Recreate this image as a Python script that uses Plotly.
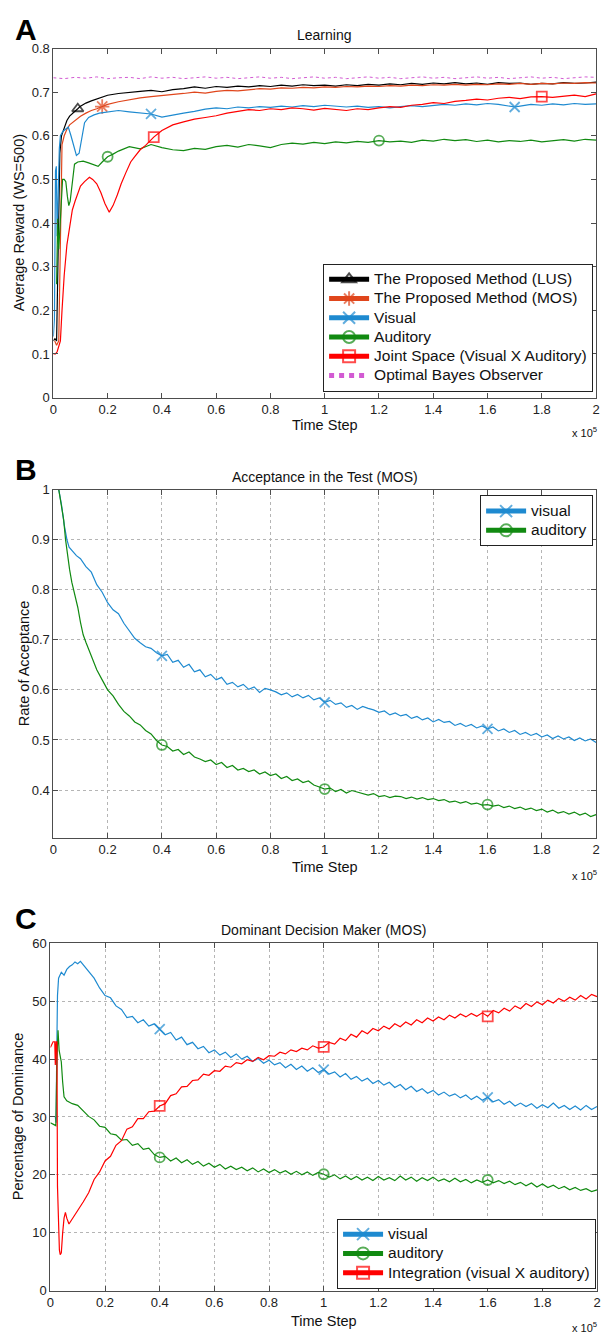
import plotly.graph_objects as go

# ---------------- Panel A : Learning ----------------
lus_t = [0, 0.006, 0.012, 0.018, 0.024, 0.03, 0.04, 0.05, 0.06, 0.07, 0.08, 0.09, 0.1, 0.12, 0.14, 0.16, 0.18, 0.2,
         0.24, 0.28, 0.32, 0.36, 0.4, 0.44, 0.48, 0.52, 0.56, 0.6, 0.64, 0.68, 0.72, 0.76, 0.8, 0.84, 0.88, 0.92, 0.96,
         1.0, 1.04, 1.08, 1.12, 1.16, 1.2, 1.24, 1.28, 1.32, 1.36, 1.4, 1.44, 1.48, 1.52, 1.56, 1.6, 1.64, 1.68, 1.72,
         1.76, 1.8, 1.84, 1.88, 1.92, 1.96, 2.0]
lus_v = [0.13, 0.135, 0.13, 0.4, 0.56, 0.6, 0.62, 0.635, 0.645, 0.65, 0.655, 0.662, 0.668, 0.675, 0.68, 0.684, 0.688, 0.693,
         0.697, 0.700, 0.702, 0.704, 0.701, 0.706, 0.708, 0.712, 0.709, 0.713, 0.711, 0.714, 0.712, 0.715, 0.713, 0.716, 0.714, 0.717, 0.715,
         0.716, 0.714, 0.717, 0.715, 0.718, 0.716, 0.719, 0.717, 0.720, 0.718, 0.721, 0.719, 0.722, 0.719, 0.721, 0.718, 0.722, 0.720, 0.721,
         0.718, 0.720, 0.719, 0.722, 0.720, 0.721, 0.723]
lus_marks = [0.09]

mos_t = [0.005, 0.012, 0.02, 0.026, 0.032, 0.04, 0.05, 0.06, 0.08, 0.1, 0.12, 0.14, 0.16, 0.18, 0.2,
         0.24, 0.28, 0.32, 0.36, 0.4, 0.44, 0.48, 0.52, 0.56, 0.6, 0.64, 0.68, 0.72, 0.76, 0.8, 0.84, 0.88, 0.92, 0.96,
         1.0, 1.04, 1.08, 1.12, 1.16, 1.2, 1.24, 1.28, 1.32, 1.36, 1.4, 1.44, 1.48, 1.52, 1.56, 1.6, 1.64, 1.68, 1.72,
         1.76, 1.8, 1.84, 1.88, 1.92, 1.96, 2.0]
mos_v = [0.13, 0.12, 0.13, 0.35, 0.58, 0.6, 0.615, 0.625, 0.635, 0.645, 0.652, 0.658, 0.662, 0.667, 0.672,
         0.678, 0.683, 0.687, 0.690, 0.692, 0.695, 0.697, 0.700, 0.698, 0.702, 0.704, 0.703, 0.706, 0.708, 0.707, 0.710, 0.709, 0.711, 0.710,
         0.712, 0.711, 0.713, 0.712, 0.714, 0.713, 0.715, 0.714, 0.716, 0.715, 0.717, 0.716, 0.718, 0.716, 0.718, 0.717, 0.719, 0.718, 0.720,
         0.718, 0.720, 0.719, 0.721, 0.720, 0.722, 0.721]
mos_marks = [0.18]

vis_t = [0, 0.004, 0.008, 0.011, 0.014, 0.018, 0.022, 0.026, 0.035, 0.045, 0.055, 0.065, 0.075, 0.085, 0.095, 0.105,
         0.115, 0.13, 0.15, 0.17, 0.2,
         0.24, 0.28, 0.32, 0.36, 0.4, 0.44, 0.48, 0.52, 0.56, 0.6, 0.64, 0.68, 0.72, 0.76, 0.8, 0.84, 0.88, 0.92, 0.96,
         1.0, 1.04, 1.08, 1.12, 1.16, 1.2, 1.24, 1.28, 1.32, 1.36, 1.4, 1.44, 1.48, 1.52, 1.56, 1.6, 1.64, 1.7, 1.72,
         1.76, 1.8, 1.84, 1.88, 1.92, 1.96, 2.0]
vis_v = [0.14, 0.18, 0.52, 0.53, 0.37, 0.5, 0.57, 0.6, 0.61, 0.615, 0.62, 0.6, 0.575, 0.555, 0.56, 0.6,
         0.63, 0.642, 0.648, 0.652, 0.655,
         0.658, 0.655, 0.652, 0.650, 0.643, 0.648, 0.652, 0.656, 0.661, 0.664, 0.662, 0.666, 0.664, 0.667, 0.665, 0.668, 0.666, 0.669, 0.667,
         0.670, 0.668, 0.666, 0.668, 0.665, 0.667, 0.664, 0.667, 0.669, 0.667, 0.670, 0.672, 0.670, 0.673, 0.671, 0.674, 0.672, 0.666, 0.668,
         0.672, 0.670, 0.673, 0.671, 0.674, 0.672, 0.673]
vis_marks = [0.36, 1.7]

aud_t = [0.012, 0.016, 0.02, 0.025, 0.03, 0.034, 0.04, 0.046, 0.052, 0.057, 0.062, 0.07, 0.078, 0.09, 0.11, 0.13,
         0.15, 0.165, 0.18, 0.2, 0.22,
         0.24, 0.28, 0.32, 0.36, 0.4, 0.44, 0.48, 0.52, 0.56, 0.6, 0.64, 0.68, 0.72, 0.76, 0.8, 0.84, 0.88, 0.92, 0.96,
         1.0, 1.04, 1.08, 1.12, 1.16, 1.2, 1.24, 1.28, 1.32, 1.36, 1.4, 1.44, 1.48, 1.52, 1.56, 1.6, 1.64, 1.68, 1.72,
         1.76, 1.8, 1.84, 1.88, 1.92, 1.96, 2.0]
aud_v = [0.26, 0.41, 0.34, 0.40, 0.47, 0.50, 0.50, 0.495, 0.46, 0.44, 0.45, 0.50, 0.535, 0.54, 0.542, 0.538,
         0.533, 0.53, 0.54, 0.552, 0.558,
         0.565, 0.575, 0.570, 0.580, 0.573, 0.568, 0.566, 0.571, 0.569, 0.575, 0.578, 0.574, 0.580, 0.577, 0.573, 0.580, 0.583, 0.581, 0.585,
         0.582, 0.586, 0.584, 0.587, 0.585, 0.589, 0.586, 0.588, 0.585, 0.590, 0.588, 0.592, 0.589, 0.591, 0.587, 0.590, 0.586, 0.589, 0.587,
         0.590, 0.586, 0.589, 0.591, 0.588, 0.592, 0.590]
aud_marks = [0.2, 1.2]

joint_t = [0, 0.008, 0.014, 0.02, 0.026, 0.032, 0.04, 0.05, 0.06, 0.07, 0.08, 0.09, 0.1, 0.115, 0.133, 0.145, 0.16,
           0.175, 0.19, 0.206, 0.22, 0.236, 0.25, 0.267, 0.285, 0.3, 0.32, 0.34, 0.37, 0.4, 0.44, 0.48, 0.52, 0.56,
           0.6, 0.64, 0.68, 0.72, 0.76, 0.8, 0.84, 0.88, 0.92, 0.96, 1.0, 1.04, 1.08, 1.12, 1.16, 1.2, 1.24, 1.28,
           1.32, 1.36, 1.4, 1.44, 1.48, 1.52, 1.56, 1.6, 1.64, 1.68, 1.72, 1.76, 1.8, 1.84, 1.88, 1.92, 1.96, 2.0]
joint_v = [0.1, 0.1, 0.105, 0.12, 0.13, 0.2, 0.28, 0.35, 0.39, 0.43, 0.45, 0.47, 0.485, 0.495, 0.505, 0.5, 0.49,
           0.47, 0.445, 0.425, 0.44, 0.465, 0.49, 0.515, 0.54, 0.552, 0.568, 0.578, 0.597, 0.612, 0.625, 0.632, 0.638, 0.642,
           0.646, 0.652, 0.656, 0.660, 0.658, 0.662, 0.660, 0.664, 0.662, 0.659, 0.663, 0.661, 0.658, 0.662, 0.660, 0.664, 0.667, 0.665,
           0.670, 0.672, 0.676, 0.674, 0.679, 0.681, 0.684, 0.682, 0.686, 0.688, 0.685, 0.689, 0.690, 0.688, 0.691, 0.693, 0.690, 0.696]
joint_marks = [0.37, 1.8]

bayes_t = [0, 0.04, 0.08, 0.12, 0.16, 0.2, 0.24, 0.28, 0.32, 0.36, 0.4, 0.44, 0.48, 0.52, 0.56, 0.6, 0.64, 0.68, 0.72,
           0.76, 0.8, 0.84, 0.88, 0.92, 0.96, 1.0, 1.04, 1.08, 1.12, 1.16, 1.2, 1.24, 1.28, 1.32, 1.36, 1.4, 1.44, 1.48,
           1.52, 1.56, 1.6, 1.64, 1.68, 1.72, 1.76, 1.8, 1.84, 1.88, 1.92, 1.96, 2.0]
bayes_v = [0.733, 0.731, 0.734, 0.732, 0.735, 0.731, 0.733, 0.734, 0.731, 0.735, 0.732, 0.734, 0.731, 0.733, 0.735, 0.732,
           0.734, 0.731, 0.733, 0.735, 0.732, 0.734, 0.731, 0.733, 0.735, 0.732, 0.734, 0.731, 0.733, 0.735, 0.732, 0.734,
           0.731, 0.733, 0.735, 0.732, 0.734, 0.731, 0.733, 0.735, 0.732, 0.734, 0.731, 0.733, 0.735, 0.732, 0.734, 0.731,
           0.733, 0.735, 0.734]

# ---------------- Panel B : Acceptance ----------------
accv_t = [0.02, 0.03, 0.04, 0.05, 0.058, 0.066, 0.075, 0.085,
          0.1, 0.12, 0.14, 0.16, 0.18, 0.2, 0.22, 0.24, 0.26, 0.28, 0.3, 0.32, 0.34, 0.36, 0.38,
          0.4, 0.42, 0.44, 0.46, 0.48, 0.5, 0.52, 0.54, 0.56, 0.58, 0.6, 0.62, 0.64, 0.66, 0.68, 0.7, 0.72, 0.74, 0.76,
          0.78, 0.8, 0.82, 0.84, 0.86, 0.88, 0.9, 0.92, 0.94, 0.96, 0.98, 1.0, 1.02, 1.04, 1.06, 1.08, 1.1, 1.12, 1.14,
          1.16, 1.18, 1.2, 1.22, 1.24, 1.26, 1.28, 1.3, 1.32, 1.34, 1.36, 1.38, 1.4, 1.42, 1.44, 1.46, 1.48, 1.5, 1.52,
          1.54, 1.56, 1.58, 1.6, 1.62, 1.64, 1.66, 1.68, 1.7, 1.72, 1.74, 1.76, 1.78, 1.8, 1.82, 1.84, 1.86, 1.88, 1.9,
          1.92, 1.94, 1.96, 1.98, 2.0]
accv_v = [1.0, 0.97, 0.93, 0.9, 0.885, 0.88, 0.876, 0.868,
          0.862, 0.846, 0.835, 0.81, 0.795, 0.774, 0.760, 0.752, 0.733, 0.718, 0.703, 0.694, 0.686, 0.683, 0.674,
          0.668, 0.671, 0.655, 0.659, 0.645, 0.651, 0.636, 0.640, 0.626, 0.631, 0.620, 0.625, 0.611, 0.615, 0.606, 0.611, 0.601, 0.606, 0.595,
          0.603, 0.600, 0.596, 0.590, 0.594, 0.586, 0.591, 0.584, 0.589, 0.580, 0.584, 0.575, 0.579, 0.571, 0.574, 0.565, 0.569, 0.561, 0.567,
          0.563, 0.560, 0.555, 0.558, 0.550, 0.554, 0.548, 0.551, 0.543, 0.547, 0.540, 0.544, 0.536, 0.541, 0.535, 0.537, 0.529, 0.533, 0.527,
          0.531, 0.524, 0.528, 0.522, 0.526, 0.518, 0.522, 0.515, 0.519, 0.511, 0.515, 0.509, 0.513, 0.506, 0.510, 0.503, 0.508, 0.502, 0.506,
          0.499, 0.504, 0.498, 0.502, 0.495]
accv_marks = [0.4, 1.0, 1.6]

acca_t = [0.02, 0.03, 0.038, 0.045, 0.052, 0.06, 0.068, 0.075, 0.082, 0.09, 0.1, 0.11,
          0.12, 0.14, 0.16, 0.18, 0.2, 0.22, 0.24, 0.26, 0.28, 0.3, 0.32, 0.34, 0.36, 0.38,
          0.4, 0.42, 0.44, 0.46, 0.48, 0.5, 0.52, 0.54, 0.56, 0.58, 0.6, 0.62, 0.64, 0.66, 0.68, 0.7, 0.72, 0.74, 0.76,
          0.78, 0.8, 0.82, 0.84, 0.86, 0.88, 0.9, 0.92, 0.94, 0.96, 0.98, 1.0, 1.02, 1.04, 1.06, 1.08, 1.1, 1.12, 1.14,
          1.16, 1.18, 1.2, 1.22, 1.24, 1.26, 1.28, 1.3, 1.32, 1.34, 1.36, 1.38, 1.4, 1.42, 1.44, 1.46, 1.48, 1.5, 1.52,
          1.54, 1.56, 1.58, 1.6, 1.62, 1.64, 1.66, 1.68, 1.7, 1.72, 1.74, 1.76, 1.78, 1.8, 1.82, 1.84, 1.86, 1.88, 1.9,
          1.92, 1.94, 1.96, 1.98, 2.0]
acca_v = [1.0, 0.97, 0.94, 0.9, 0.87, 0.84, 0.815, 0.80, 0.785, 0.765, 0.735, 0.71,
          0.695, 0.668, 0.640, 0.620, 0.600, 0.588, 0.571, 0.557, 0.548, 0.536, 0.530, 0.519, 0.512, 0.499,
          0.490, 0.487, 0.478, 0.481, 0.471, 0.476, 0.466, 0.462, 0.457, 0.460, 0.451, 0.455, 0.445, 0.449, 0.440, 0.443, 0.437, 0.440, 0.432,
          0.436, 0.429, 0.432, 0.423, 0.427, 0.419, 0.422, 0.415, 0.418, 0.410, 0.406, 0.402, 0.404, 0.397, 0.401, 0.394, 0.399, 0.396, 0.392,
          0.390, 0.393, 0.387, 0.389, 0.385, 0.388, 0.387, 0.383, 0.386, 0.382, 0.385, 0.381, 0.383, 0.379, 0.381, 0.376, 0.378, 0.374, 0.377,
          0.372, 0.374, 0.370, 0.371, 0.368, 0.370, 0.365, 0.368, 0.363, 0.366, 0.361, 0.364, 0.359, 0.362, 0.356, 0.360, 0.354, 0.357, 0.352,
          0.356, 0.350, 0.354, 0.347, 0.351]
acca_marks = [0.4, 1.0, 1.6]

# ---------------- Panel C : Dominance ----------------
domv_t = [0.018, 0.021, 0.023, 0.026, 0.03, 0.04, 0.05, 0.06, 0.07, 0.08, 0.09, 0.1, 0.11,
          0.12, 0.14, 0.16, 0.18, 0.2, 0.22, 0.24, 0.26, 0.28, 0.3, 0.32, 0.34, 0.36, 0.38,
          0.4, 0.42, 0.44, 0.46, 0.48, 0.5, 0.52, 0.54, 0.56, 0.58, 0.6, 0.62, 0.64, 0.66, 0.68, 0.7, 0.72, 0.74, 0.76,
          0.78, 0.8, 0.82, 0.84, 0.86, 0.88, 0.9, 0.92, 0.94, 0.96, 0.98, 1.0, 1.02, 1.04, 1.06, 1.08, 1.1, 1.12, 1.14,
          1.16, 1.18, 1.2, 1.22, 1.24, 1.26, 1.28, 1.3, 1.32, 1.34, 1.36, 1.38, 1.4, 1.42, 1.44, 1.46, 1.48, 1.5, 1.52,
          1.54, 1.56, 1.58, 1.6, 1.62, 1.64, 1.66, 1.68, 1.7, 1.72, 1.74, 1.76, 1.78, 1.8, 1.82, 1.84, 1.86, 1.88, 1.9,
          1.92, 1.94, 1.96, 1.98, 2.0]
domv_v = [30, 29, 40, 51, 54, 55, 54.5, 55.5, 56, 56.3, 56.8, 56.5, 56.9,
          56.3, 55.2, 54.0, 52.3, 51.0, 50.6, 49.2, 48.6, 47.2, 47.4, 46.3, 46.8, 45.7, 46.1,
          45.2, 44.2, 44.6, 43.3, 43.8, 42.5, 42.9, 41.8, 42.2, 41.1, 41.6, 40.7, 41.2, 40.3, 40.9, 40.0, 40.5, 39.6, 40.1,
          39.3, 39.8, 39.0, 39.4, 38.5, 39.1, 38.2, 38.8, 37.9, 38.5, 37.7, 38.2, 37.4, 37.8, 36.9, 37.5, 36.5, 37.0, 36.2,
          36.7, 35.8, 36.3, 35.5, 36.0, 35.1, 35.6, 34.7, 35.3, 34.4, 34.9, 34.1, 34.6, 33.8, 34.3, 33.6, 34.0, 33.3, 33.8,
          33.0, 33.6, 32.9, 33.4, 32.6, 33.0, 32.2, 32.7, 31.9, 32.4, 31.8, 32.3, 31.5, 32.1, 31.6, 32.4, 31.5, 32.0, 31.3,
          31.9, 31.2, 32.0, 31.3, 31.8]
domv_marks = [0.4, 1.0, 1.6]

doma_t = [0, 0.01, 0.02, 0.024, 0.028, 0.032, 0.036, 0.04, 0.045, 0.05, 0.06, 0.08, 0.1,
          0.12, 0.14, 0.16, 0.18, 0.2, 0.22, 0.24, 0.26, 0.28, 0.3, 0.32, 0.34, 0.36, 0.38,
          0.4, 0.42, 0.44, 0.46, 0.48, 0.5, 0.52, 0.54, 0.56, 0.58, 0.6, 0.62, 0.64, 0.66, 0.68, 0.7, 0.72, 0.74, 0.76,
          0.78, 0.8, 0.82, 0.84, 0.86, 0.88, 0.9, 0.92, 0.94, 0.96, 0.98, 1.0, 1.02, 1.04, 1.06, 1.08, 1.1, 1.12, 1.14,
          1.16, 1.18, 1.2, 1.22, 1.24, 1.26, 1.28, 1.3, 1.32, 1.34, 1.36, 1.38, 1.4, 1.42, 1.44, 1.46, 1.48, 1.5, 1.52,
          1.54, 1.56, 1.58, 1.6, 1.62, 1.64, 1.66, 1.68, 1.7, 1.72, 1.74, 1.76, 1.78, 1.8, 1.82, 1.84, 1.86, 1.88, 1.9,
          1.92, 1.94, 1.96, 1.98, 2.0]
doma_v = [29, 28.8, 28.5, 40, 45, 41.5, 40.5, 39.5, 36, 33.5, 32.8, 32.3, 32.0,
          31.0, 30.1, 29.5, 28.4, 28.2, 27.1, 26.9, 26.0, 26.1, 25.1, 25.4, 24.4, 24.6, 23.5,
          23.0, 23.2, 22.4, 22.9, 22.1, 22.6, 21.8, 22.3, 21.5, 22.0, 21.3, 21.8, 21.0, 21.5, 20.9, 21.3, 20.7, 21.2, 20.5,
          21.0, 20.4, 20.9, 20.3, 20.7, 20.1, 20.6, 20.0, 20.5, 19.9, 20.4, 20.1, 19.6, 20.0, 19.3, 19.8, 19.2, 19.7, 19.1,
          19.6, 19.0, 19.7, 19.1, 19.5, 19.0, 19.8, 19.1, 19.6, 18.9, 19.5, 19.0, 19.6, 18.9, 19.3, 18.8, 19.4, 18.8, 19.2,
          18.6, 19.1, 18.7, 19.1, 18.6, 19.0, 18.5, 18.9, 18.3, 18.7, 18.1, 18.6, 17.9, 18.4, 17.8, 18.2, 17.6, 18.0, 17.4,
          17.8, 17.3, 17.6, 17.1, 17.4]
doma_marks = [0.4, 1.0, 1.6]

domi_t = [0, 0.006, 0.01, 0.016, 0.018, 0.021, 0.024, 0.026, 0.03, 0.033, 0.036, 0.04, 0.045, 0.05, 0.055, 0.06, 0.068,
          0.075, 0.085,
          0.1, 0.12, 0.14, 0.16, 0.18, 0.2, 0.22, 0.24, 0.26, 0.28, 0.3, 0.32, 0.34, 0.36, 0.38,
          0.4, 0.42, 0.44, 0.46, 0.48, 0.5, 0.52, 0.54, 0.56, 0.58, 0.6, 0.62, 0.64, 0.66, 0.68, 0.7, 0.72, 0.74, 0.76,
          0.78, 0.8, 0.82, 0.84, 0.86, 0.88, 0.9, 0.92, 0.94, 0.96, 0.98, 1.0, 1.02, 1.04, 1.06, 1.08, 1.1, 1.12, 1.14,
          1.16, 1.18, 1.2, 1.22, 1.24, 1.26, 1.28, 1.3, 1.32, 1.34, 1.36, 1.38, 1.4, 1.42, 1.44, 1.46, 1.48, 1.5, 1.52,
          1.54, 1.56, 1.58, 1.6, 1.62, 1.64, 1.66, 1.68, 1.7, 1.72, 1.74, 1.76, 1.78, 1.8, 1.82, 1.84, 1.86, 1.88, 1.9,
          1.92, 1.94, 1.96, 1.98, 2.0]
domi_v = [42, 42.5, 43, 43, 39, 43, 43, 18, 8, 7, 6.2, 6.5, 10, 12.5, 13.5, 12.5, 11.5,
          12, 12.7,
          14.0, 15.3, 16.9, 19.2, 20.5, 22.4, 23.2, 25.1, 25.9, 27.9, 28.3, 29.7, 29.7, 30.9, 31.0,
          31.9, 32.3, 33.7, 34.0, 35.2, 35.3, 36.3, 36.4, 37.4, 37.2, 38.0, 37.9, 38.8, 38.6, 39.4, 39.2, 39.9, 39.6, 40.3,
          39.9, 40.6, 40.5, 41.2, 40.9, 41.6, 41.3, 41.9, 41.6, 42.3, 41.9, 42.1, 42.9, 42.6, 43.6, 43.2, 44.3, 43.8, 44.9,
          44.4, 45.3, 44.9, 45.7, 45.2, 46.1, 45.6, 46.4, 45.9, 46.8, 46.3, 47.1, 46.6, 47.3, 46.8, 47.6, 47.1, 47.8, 47.3,
          47.9, 47.4, 48.0, 47.4, 48.4, 48.0, 48.8, 48.3, 49.2, 48.7, 49.6, 49.1, 49.9, 49.4, 50.2, 49.7, 50.5, 50.0, 50.7,
          50.2, 51.0, 50.4, 51.2, 50.8]
domi_marks = [0.4, 1.0, 1.6]

x_ticks = [0, 0.2, 0.4, 0.6, 0.8, 1.0, 1.2, 1.4, 1.6, 1.8, 2.0]
x_tick_text = ["0", "0.2", "0.4", "0.6", "0.8", "1", "1.2", "1.4", "1.6", "1.8", "2"]

# ---------------- figure ----------------
W, H = 605, 1343
FONT = "Liberation Sans, Arial, sans-serif"
AX = "#4d4d4d"

BLACK = "#000000"
MOSC = "#E0461C"
BLUE = "#1E8AD0"
GREEN = "#118A11"
RED = "#FF0000"
MAG = "#D25AD2"

LEG_TEXT_PX = 15.5   # legend text size; row spacing follows the (smaller) legend font size

fig = go.Figure()


def py(px):
    return 1 - px / H


def add(t, v, color, name, xa, ya, leg, symbol=None, marks=(), dash="solid", width=1.2, msize=10):
    sizes = [msize if any(abs(tt - m) < 1e-9 for m in marks) else 0 for tt in t]
    fig.add_trace(go.Scatter(
        x=t, y=v, name=f'<span style="font-size:{LEG_TEXT_PX}px">{name}</span>',
        xaxis=xa, yaxis=ya, legend=leg,
        mode="lines+markers" if symbol else "lines",
        line=dict(color=color, width=width, dash=dash),
        marker=dict(symbol=symbol, size=sizes, color=color, line=dict(color=color, width=1.8)) if symbol else None,
        hoverinfo="skip",
    ))


add(lus_t, lus_v, BLACK, "The Proposed Method (LUS)", "x", "y", "legend", "triangle-up-open", lus_marks)
add(mos_t, mos_v, MOSC, "The Proposed Method (MOS)", "x", "y", "legend", "asterisk-open", mos_marks, msize=12)
add(vis_t, vis_v, BLUE, "Visual", "x", "y", "legend", "x-thin-open", vis_marks)
add(aud_t, aud_v, GREEN, "Auditory", "x", "y", "legend", "circle-open", aud_marks)
add(joint_t, joint_v, RED, "Joint Space (Visual X Auditory)", "x", "y", "legend", "square-open", joint_marks)
add(bayes_t, bayes_v, MAG, "Optimal Bayes Observer", "x", "y", "legend", None, (), dash="dot", width=1)

add(accv_t, accv_v, BLUE, "visual", "x2", "y2", "legend2", "x-thin-open", accv_marks)
add(acca_t, acca_v, GREEN, "auditory", "x2", "y2", "legend2", "circle-open", acca_marks)

add(domv_t, domv_v, BLUE, "visual", "x3", "y3", "legend3", "x-thin-open", domv_marks)
add(doma_t, doma_v, GREEN, "auditory", "x3", "y3", "legend3", "circle-open", doma_marks)
add(domi_t, domi_v, RED, "Integration (visual X auditory)", "x3", "y3", "legend3", "square-open", domi_marks)


def xaxis(dom, anchor, grid):
    return dict(domain=dom, anchor=anchor, range=[0, 2], tickvals=x_ticks, ticktext=x_tick_text,
                ticks="inside", ticklen=5, tickcolor=AX, showline=True, linecolor=AX, linewidth=1,
                mirror="ticks", zeroline=False, showgrid=grid, gridcolor="#b5b5b5", griddash="dot",
                gridwidth=1, tickfont=dict(size=13, color="#222"), fixedrange=True,
                ticklabeloverflow="allow")


def yaxis(dom, anchor, rng, vals, texts, grid):
    return dict(domain=dom, anchor=anchor, range=rng, tickvals=vals, ticktext=texts,
                ticks="inside", ticklen=5, tickcolor=AX, showline=True, linecolor=AX, linewidth=1,
                mirror="ticks", zeroline=False, showgrid=grid, gridcolor="#b5b5b5", griddash="dot",
                gridwidth=1, tickfont=dict(size=13, color="#222"), fixedrange=True,
                ticklabeloverflow="allow")


xa_dom = [50 / W, 600 / W]
xc_dom = [47 / W, 601 / W]
ya_dom = [py(395), py(42)]
yb_dom = [py(840), py(488)]
yc_dom = [py(1298), py(947)]

leg_common = dict(bgcolor="white", bordercolor="#222", borderwidth=1, font=dict(size=12.5, color="#111"),
                  itemsizing="constant", itemwidth=40, tracegroupgap=0)

layout = dict(
    width=W, height=H, margin=dict(l=0, r=0, t=0, b=0),
    paper_bgcolor="white", plot_bgcolor="white",
    font=dict(family=FONT, color="#111"),
    xaxis=xaxis(xa_dom, "y", False),
    yaxis=yaxis(ya_dom, "x", [0, 0.8], [0, 0.1, 0.2, 0.3, 0.4, 0.5, 0.6, 0.7, 0.8],
                ["0", "0.1", "0.2", "0.3", "0.4", "0.5", "0.6", "0.7", "0.8"], False),
    xaxis2=xaxis(xa_dom, "y2", True),
    yaxis2=yaxis(yb_dom, "x2", [0.305, 1], [0.4, 0.5, 0.6, 0.7, 0.8, 0.9, 1.0],
                 ["0.4", "0.5", "0.6", "0.7", "0.8", "0.9", "1"], True),
    xaxis3=xaxis(xc_dom, "y3", True),
    yaxis3=yaxis(yc_dom, "x3", [0, 60], [0, 10, 20, 30, 40, 50, 60],
                 ["0", "10", "20", "30", "40", "50", "60"], True),
    legend=dict(x=597 / W, y=py(389), xanchor="right", yanchor="bottom", **leg_common),
    legend2=dict(x=597 / W, y=py(494), xanchor="right", yanchor="top", **leg_common),
    legend3=dict(x=600 / W, y=py(1296), xanchor="right", yanchor="bottom", **leg_common),
    showlegend=True,
)
fig.update_layout(**layout)


def ann(text, x, y, size, bold=False, angle=0, xanchor="center"):
    fig.add_annotation(text=f"<b>{text}</b>" if bold else text, x=x / W, y=py(y), xref="paper", yref="paper",
                       showarrow=False, font=dict(size=size, family=FONT, color="#000" if bold else "#111"),
                       textangle=angle, xanchor=xanchor, yanchor="middle")


# panel letters
ann("A", 22, 23, 30, bold=True)
ann("B", 22, 468, 30, bold=True)
ann("C", 22, 922, 30, bold=True)
# titles
ann("Learning", 325, 28, 14)
ann("Acceptance in the Test (MOS)", 325, 475, 14)
ann("Dominant Decision Maker (MOS)", 324, 933, 14)
# y titles
ann("Average Reward (WS=500)", 15, 218, 14.5, angle=-90)
ann("Rate of Acceptance", 20, 664, 14.5, angle=-90)
ann("Percentage of Dominance", 15, 1122, 14.5, angle=-90)
# x titles
ann("Time Step", 325, 423, 14.5)
ann("Time Step", 325, 870, 14.5)
ann("Time Step", 324, 1329, 14.5)
# exponent
for yy in (430, 878, 1335):
    ann("x 10<sup>5</sup>", 603, yy, 11, xanchor="right")

fig.write_html("out.html", config={"displayModeBar": False},
               post_script="document.body.style.margin='0px';document.body.style.overflow='hidden';")
